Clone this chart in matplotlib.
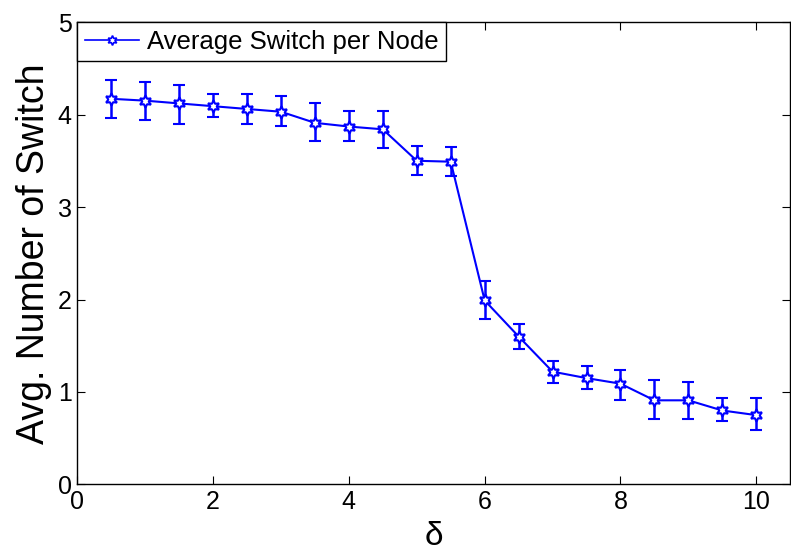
import numpy as np
import matplotlib.pyplot as plt
from matplotlib.lines import Line2D

plt.rcParams['font.family'] = ['Liberation Sans', 'DejaVu Sans']

# Data
delta = [0.5, 1.0, 1.5, 2.0, 2.5, 3.0, 3.5, 4.0, 4.5, 5.0,
         5.5, 6.0, 6.5, 7.0, 7.5, 8.0, 8.5, 9.0, 9.5, 10.0]
avg_switch = [4.17, 4.15, 4.12, 4.09, 4.06, 4.03, 3.91, 3.87, 3.84, 3.50,
              3.49, 1.99, 1.60, 1.22, 1.15, 1.09, 0.91, 0.91, 0.80, 0.75]
err_upper = [4.37, 4.35, 4.32, 4.22, 4.22, 4.20, 4.12, 4.04, 4.04, 3.66,
             3.65, 2.20, 1.73, 1.34, 1.28, 1.24, 1.13, 1.11, 0.94, 0.93]
err_lower = [3.96, 3.94, 3.90, 3.97, 3.90, 3.88, 3.71, 3.71, 3.64, 3.35,
             3.33, 1.79, 1.47, 1.10, 1.03, 0.91, 0.71, 0.71, 0.69, 0.59]

x = np.array(delta)
y = np.array(avg_switch)
yerr = np.vstack([y - np.array(err_lower), np.array(err_upper) - y])

blue = (0, 0, 1)
hexagram = (6, 1, 0)

fig = plt.figure(figsize=(7.91, 5.52), dpi=100)
ax = fig.add_axes([0.0977, 0.1223, 0.9013, 0.8378])

ax.errorbar(x, y, yerr=yerr, color=blue, linewidth=1.5,
            elinewidth=1.8, capsize=4.5, capthick=1.8,
            marker=hexagram, markersize=9, markerfacecolor='white',
            markeredgecolor=blue, markeredgewidth=1.5, zorder=3)

ax.set_xlim(0, 10.5)
ax.set_ylim(0, 5)
ax.set_xticks([0, 2, 4, 6, 8, 10])
ax.set_yticks([0, 1, 2, 3, 4, 5])
ax.tick_params(direction='in', length=6, width=0.8, labelsize=18,
               top=True, right=True, pad=4)
for s in ax.spines.values():
    s.set_linewidth(1.0)

ax.set_xlabel('δ', fontsize=24, labelpad=5)
ax.set_ylabel('Avg. Number of Switch', fontsize=27, labelpad=4)

# legend entry shows just the line with its marker
handle = Line2D([], [], color=blue, linewidth=1.2, marker=hexagram,
                markersize=7, markerfacecolor='white', markeredgecolor=blue,
                markeredgewidth=1.2)
leg = ax.legend([handle], ['Average Switch per Node'], loc='upper left',
                borderaxespad=0, fontsize=18.5, fancybox=False, framealpha=1,
                edgecolor='black', handlelength=2.1, handletextpad=0.3,
                borderpad=0.3)
leg.get_frame().set_linewidth(1.0)

fig.savefig('out.png', dpi=100)
